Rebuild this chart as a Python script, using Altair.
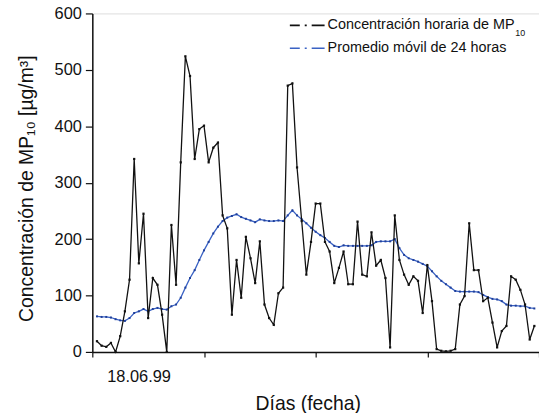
import altair as alt
import pandas as pd

hours = list(range(1, 96))
hourly = [19, 11, 9, 16, 0, 28, 72, 128, 342, 157, 245, 60, 131, 119, 66, 0, 225, 119, 336, 524,
          489, 342, 395, 401, 336, 362, 371, 242, 219, 66, 163, 96, 204, 166, 122, 196, 84, 60, 48, 104,
          114, 472, 476, 327, 232, 137, 195, 263, 263, 195, 178, 122, 149, 178, 120, 120, 231, 137, 134, 212,
          153, 163, 131, 8, 242, 163, 137, 119, 134, 126, 69, 154, 90, 5, 2, 1, 2, 5, 84, 99,
          228, 145, 145, 90, 96, 52, 8, 37, 46, 134, 128, 110, 84, 22, 46]
moving = [63, 62, 62, 61, 58, 56, 55, 60, 69, 72, 76, 72, 76, 78, 76, 75, 81, 84, 96, 114,
          131, 145, 163, 180, 195, 210, 222, 232, 238, 241, 244, 239, 236, 233, 230, 235, 233, 232, 232, 233,
          232, 242, 251, 242, 235, 228, 220, 213, 207, 202, 195, 188, 186, 189, 188, 188, 188, 188, 188, 189,
          195, 196, 196, 196, 200, 184, 172, 166, 163, 160, 156, 152, 143, 134, 126, 120, 114, 108, 107, 107,
          107, 107, 106, 101, 97, 94, 93, 90, 84, 82, 82, 81, 81, 78, 77]
series_names = ["Concentración horaria de MP", "Promedio móvil de 24 horas"]
subscript = "10"
day_ticks = [0, 24, 48, 72, 96]
y_ticks = list(range(0, 601, 50))
date_label = "18.06.99"
x_title = "Días (fecha)"
y_title = "Concentración de MP₁₀ [µg/m³]"

FONT = "Liberation Sans"
BLACK = "#111111"
BLUE = "#3a62c4"

df_h = pd.DataFrame({"hora": hours, "valor": hourly})
df_m = pd.DataFrame({"hora": hours, "valor": moving})

x_enc = alt.X(
    "hora:Q",
    scale=alt.Scale(domain=[0, 96], nice=False, zero=False),
    axis=alt.Axis(
        values=day_ticks,
        labels=False,
        tickSize=5,
        tickColor=BLACK,
        tickWidth=1.2,
        domainColor=BLACK,
        domainWidth=1.5,
        grid=False,
        title=x_title,
        titleFont=FONT,
        titleFontSize=19.5,
        titleFontWeight="normal",
        titleColor=BLACK,
        titleX=217,
        titleY=52,
        titleBaseline="middle",
        titleAlign="center",
    ),
)
y_enc = alt.Y(
    "valor:Q",
    scale=alt.Scale(domain=[0, 600], nice=False),
    axis=alt.Axis(
        values=y_ticks,
        labelExpr="datum.value % 100 == 0 ? datum.label : ''",
        labelFontSize=16.5,
        labelFont=FONT,
        labelColor=BLACK,
        labelPadding=4,
        tickSize={"condition": {"test": "datum.value % 100 == 0", "value": 7}, "value": 4},
        tickColor=BLACK,
        tickWidth=1.2,
        domainColor=BLACK,
        domainWidth=1.5,
        grid=False,
        title=y_title,
        titleFont=FONT,
        titleFontSize=19.5,
        titleFontWeight="normal",
        titleColor=BLACK,
        titleAngle=-90,
        titleX=-66,
        titleY=176,
        titleBaseline="middle",
        titleAlign="center",
    ),
)

line_h = alt.Chart(df_h).mark_line(
    color=BLACK, strokeWidth=1.3,
    point=alt.OverlayMarkDef(shape="square", size=5, filled=True, color=BLACK),
).encode(x=x_enc, y=y_enc)

line_m = alt.Chart(df_m).mark_line(
    color=BLUE, strokeWidth=1.3,
    point=alt.OverlayMarkDef(shape="square", size=4, filled=True, color="#1f3f9a"),
).encode(x="hora:Q", y="valor:Q")

one = pd.DataFrame({"k": [0]})
dash = [10, 5, 2, 5, 14, 200]
leg_sym1 = alt.Chart(one).mark_rule(color=BLACK, strokeWidth=1.6, strokeDash=dash).encode(
    x=alt.value(199), x2=alt.value(234), y=alt.value(12))
leg_sym2 = alt.Chart(one).mark_rule(color=BLUE, strokeWidth=1.6, strokeDash=dash).encode(
    x=alt.value(199), x2=alt.value(234), y=alt.value(35))
leg_txt1 = alt.Chart(one).mark_text(
    text=series_names[0], font=FONT, fontSize=14.5, color=BLACK, align="left", baseline="middle"
).encode(x=alt.value(237), y=alt.value(12))
leg_sub = alt.Chart(one).mark_text(
    text=subscript, font=FONT, fontSize=9, color=BLACK, align="left", baseline="middle"
).encode(x=alt.value(426), y=alt.value(20))
leg_txt2 = alt.Chart(one).mark_text(
    text=series_names[1], font=FONT, fontSize=14.5, color=BLACK, align="left", baseline="middle"
).encode(x=alt.value(237), y=alt.value(35))
date_txt = alt.Chart(one).mark_text(
    text=date_label, font=FONT, fontSize=16.5, color=BLACK, align="left", baseline="middle"
).encode(x=alt.value(15), y=alt.value(366))

chart = alt.layer(line_m, line_h, leg_sym1, leg_sym2, leg_txt1, leg_sub, leg_txt2, date_txt).properties(
    width=450, height=341,
    autosize=alt.AutoSizeParams(type="none"),
    padding={"left": 93, "top": 12, "right": 0, "bottom": 60},
).configure_view(stroke=BLACK, strokeWidth=1.5).configure(background="white")

chart.save("out.html", embed_options={"renderer": "svg", "actions": False})
